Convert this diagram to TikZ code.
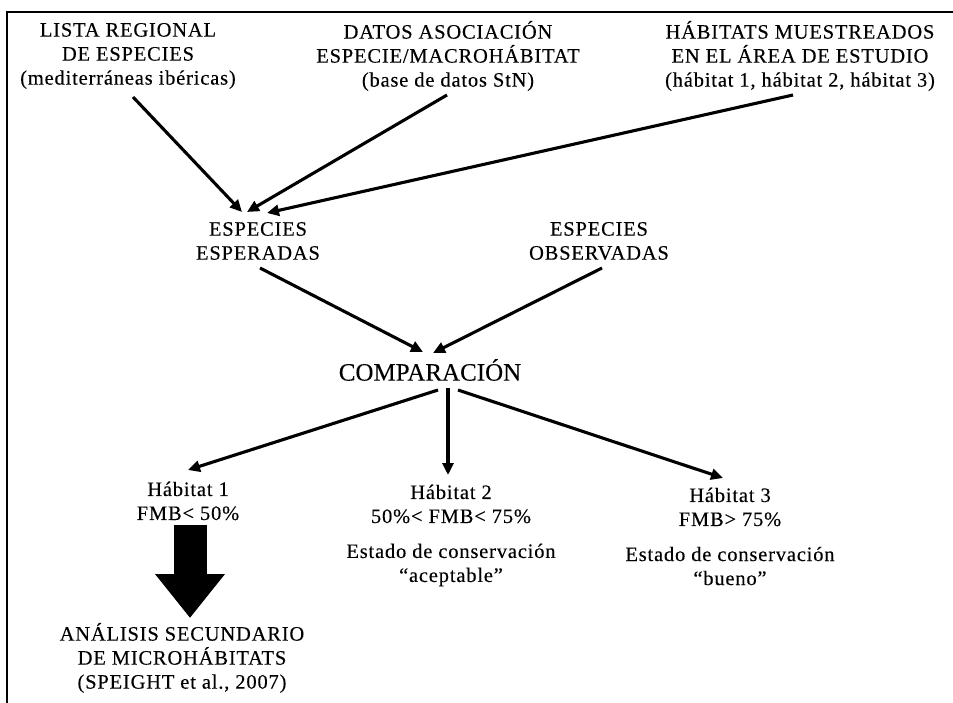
\documentclass[tikz,border=0pt]{standalone}
\usepackage{fontspec}
\setmainfont{Liberation Serif}[LetterSpace=4,FakeBold=0.2]
\newfontfamily\compfont{Liberation Serif}[FakeBold=0.15]
\usetikzlibrary{arrows.meta}
\begin{document}
\begin{tikzpicture}[x=1pt,y=-1pt,
  lbl/.style={inner sep=0pt, align=center, font=\fontsize{20.5}{24}\selectfont},
  conn/.style={line width=3.1pt, -{Triangle[length=12pt,width=11pt]}},
  bigarrow/.style={line width=33pt, -{Triangle[length=44pt,width=67pt]}},
  frame/.style={line width=2.8pt}]
\useasboundingbox (0,0) rectangle (953,703);
\fill[white] (0,0) rectangle (953,703);
\draw[frame] (7,703) -- (7,12) -- (953,12);

\node[lbl] (lista) at (128,56) {LISTA REGIONAL\\DE ESPECIES\\(mediterráneas ibéricas)};
\node[lbl] (datos) at (448,56) {DATOS ASOCIACIÓN\\ESPECIE/MACROHÁBITAT\\(base de datos StN)};
\node[lbl] (habm) at (800,56) {HÁBITATS MUESTREADOS\\EN EL ÁREA DE ESTUDIO\\(hábitat 1, hábitat 2, hábitat 3)};
\node[lbl] (esp) at (258,241) {ESPECIES\\ESPERADAS};
\node[lbl] (obs) at (599,241) {ESPECIES\\OBSERVADAS};
\node[inner sep=0pt, font=\compfont\fontsize{25}{30}\selectfont] (comp) at (430,370) {COMPARACIÓN};
\node[lbl] (h1) at (188,501) {Hábitat 1\\FMB< 50\%};
\node[lbl] (h2) at (451,504) {Hábitat 2\\50\%< FMB< 75\%};
\node[lbl] (e2) at (451,565) {Estado de conservación\\“aceptable”};
\node[lbl] (h3) at (730,507) {Hábitat 3\\FMB> 75\%};
\node[lbl] (e3) at (730,566) {Estado de conservación\\“bueno”};
\node[lbl] (anal) at (182,658) {ANÁLISIS SECUNDARIO\\DE MICROHÁBITATS\\(SPEIGHT et al., 2007)};

\draw[conn] ([shift={(5,41)}]lista.center) -- ([shift={(-16,-29)}]esp.center);
\draw[conn] ([shift={(-1,39)}]datos.center) -- ([shift={(-11,-29)}]esp.center);
\draw[conn] ([shift={(-7,39)}]habm.center) -- ([shift={(9,-28)}]esp.center);
\draw[conn] ([shift={(2,27)}]esp.center) -- ([shift={(-7,-18)}]comp.center);
\draw[conn] ([shift={(3,27)}]obs.center) -- ([shift={(3,-17)}]comp.center);
\draw[conn] ([shift={(8,20)}]comp.center) -- ([shift={(0,-31)}]h1.center);
\draw[conn] ([shift={(18,18)}]comp.center) -- ([shift={(-3,-29)}]h2.center);
\draw[conn] ([shift={(28,20)}]comp.center) -- ([shift={(-7,-29)}]h3.center);
\draw[bigarrow] ([shift={(2,24)}]h1.center) -- ([shift={(8,-40)}]anal.center);
\end{tikzpicture}
\end{document}
